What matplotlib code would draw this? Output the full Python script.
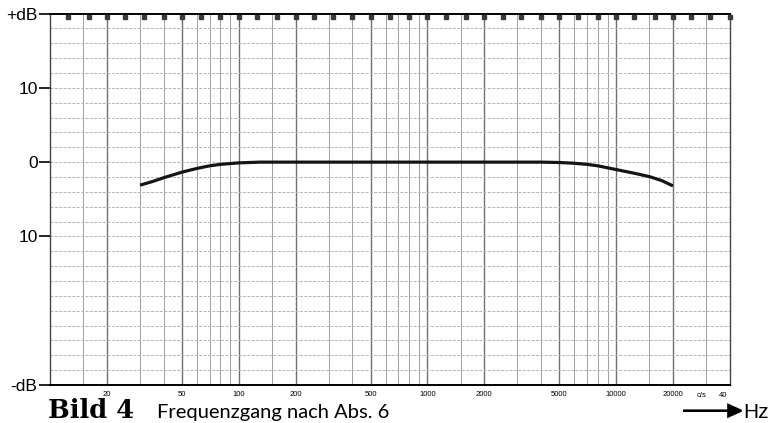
import matplotlib.pyplot as plt
import numpy as np

# Frequenzgang (gelesen aus dem Bild)
freq_hz = [30, 35, 40, 50, 60, 70, 80, 100, 130, 200, 500, 1000, 2000, 3000,
           4000, 5000, 6000, 7000, 8000, 10000, 12500, 15000, 17500, 20000]
gain_db = [-3.1, -2.6, -2.1, -1.35, -0.85, -0.5, -0.3, -0.1, 0.0, 0.0, 0.0, 0.0,
           0.0, 0.0, 0.0, -0.05, -0.15, -0.3, -0.5, -1.0, -1.5, -1.95, -2.5, -3.2]

# Beschriftungen
y_ticks = [20, 10, 0, -10, -30]
y_labels = ["+dB", "10", "0", "10", "-dB"]
x_ticks = [20, 50, 100, 200, 500, 1000, 2000, 5000, 10000, 20000]
x_labels = ["20", "50", "100", "200", "500", "1000", "2000", "5000", "10000", "20000"]

# Terzmarken oben am Rand
third_oct = [12.5, 16, 20, 25, 31.5, 40, 50, 63, 80, 100, 125, 160, 200, 250,
             315, 400, 500, 630, 800, 1000, 1250, 1600, 2000, 2500, 3150, 4000,
             5000, 6300, 8000, 10000, 12500, 16000, 20000, 25000, 31500, 40000]

fig = plt.figure(figsize=(7.78, 4.23), dpi=100)
ax = fig.add_axes([0.0643, 0.0898, 0.938 - 0.0643, 0.968 - 0.0898])
ax.set_xscale("log")
ax.set_xlim(10, 40000)
ax.set_ylim(-30, 20)

# Raster des Papiers
mult = [1, 1.5, 2, 3, 4, 5, 6, 7, 8, 9]
for dec in [10, 100, 1000, 10000]:
    for m in mult:
        f = dec * m
        if f >= 40000 or f <= 10:
            continue
        dark = m in (1, 2, 5)
        ax.axvline(f, color="#707070" if dark else "#a0a0a0",
                   lw=1.0 if dark else 0.7, zorder=1)
for y in range(-28, 20, 2):
    ax.axhline(y, color="#b4b4b4", lw=0.7, ls=(0, (3, 1.5)), zorder=1)

ax.plot(third_oct, [19.6] * len(third_oct), ls="none", marker="s",
        ms=3.0, color="#3a3a3a", zorder=3, clip_on=False)

ax.plot(freq_hz, gain_db, color="#141414", lw=2.3, zorder=4,
        solid_capstyle="butt")

for side in ["left", "right"]:
    ax.spines[side].set_color("#444444")
    ax.spines[side].set_linewidth(1.0)
ax.spines["top"].set_linewidth(1.4)
ax.spines["bottom"].set_linewidth(1.4)

ax.set_yticks(y_ticks)
ax.set_yticklabels(y_labels, fontsize=12.5, family="Liberation Sans")
ax.tick_params(axis="y", direction="out", length=8, width=1.2, pad=1)

ax.set_xticks(x_ticks)
ax.set_xticklabels(x_labels, fontsize=5.5, family="Liberation Sans")
ax.xaxis.set_minor_locator(plt.NullLocator())
ax.tick_params(axis="x", length=0, pad=4)
ax.text(28500, -30.9, "c/s", fontsize=5.5, ha="center", va="top",
        family="Liberation Sans")
ax.text(37000, -30.9, "40", fontsize=5.5, ha="center", va="top",
        family="Liberation Sans")

# Bildunterschrift
fig.text(0.062, 0.013, "Bild 4", fontsize=18.5, fontweight="bold",
         family="DejaVu Serif", va="baseline")
fig.text(0.202, 0.013, "Frequenzgang nach Abs. 6", fontsize=14.5,
         family="Lato", va="baseline")
fig.patches.append(plt.Polygon([[0.878, 0.029], [0.936, 0.029], [0.936, 0.015],
                                [0.953, 0.029], [0.936, 0.043], [0.936, 0.029]],
                               closed=True, transform=fig.transFigure,
                               facecolor="black", edgecolor="black", lw=1.5))
fig.text(0.955, 0.013, "Hz", fontsize=15, family="Liberation Sans",
         va="baseline")

fig.savefig("out.png", dpi=100)
